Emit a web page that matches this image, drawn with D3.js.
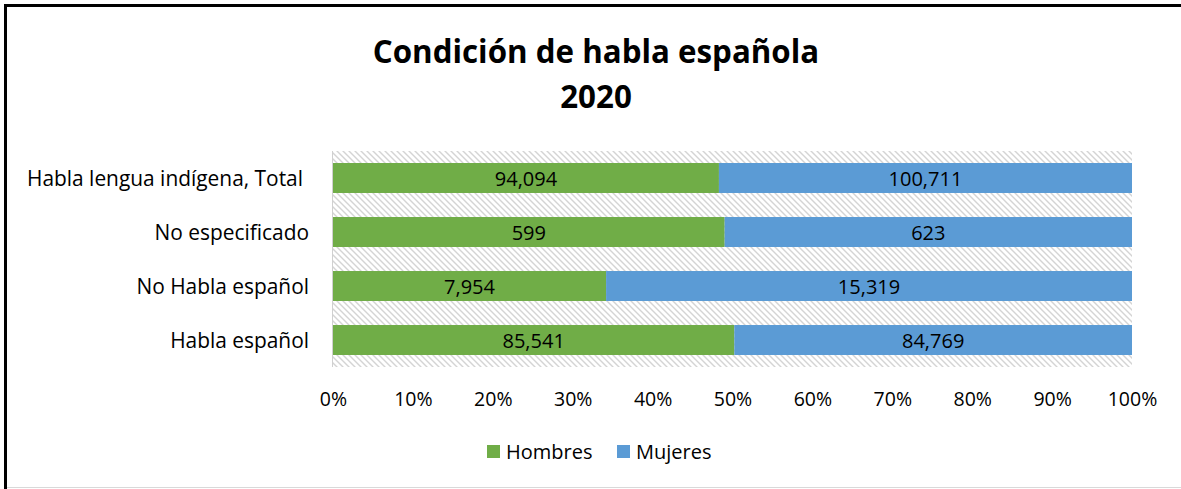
<!DOCTYPE html>
<html><head><meta charset="utf-8">
<script src="https://cdn.jsdelivr.net/npm/d3@7"></script>
<style>body{margin:0;background:#fff;} svg{display:block;font-family:"Open Sans",sans-serif;}</style>
</head><body>
<svg id="c" width="1181" height="489"></svg>
<script>
const categories = ["Habla lengua indígena, Total", "No especificado", "No Habla español", "Habla español"];
const hombres = [94094, 599, 7954, 85541];
const mujeres = [100711, 623, 15319, 84769];
const seriesNames = ["Hombres", "Mujeres"];
const colors = ["#70ad47", "#5b9bd5"];
const ticks = [0,0.1,0.2,0.3,0.4,0.5,0.6,0.7,0.8,0.9,1];

const svg = d3.select("#c");
const defs = svg.append("defs");
const pat = defs.append("pattern").attr("id","hatch").attr("patternUnits","userSpaceOnUse")
  .attr("width",6).attr("height",6);
pat.append("rect").attr("width",6).attr("height",6).attr("fill","#fff");
pat.append("path").attr("d","M0,0 L6,6 M-3,3 L3,9 M3,-3 L9,3").attr("stroke","#d4d4d4").attr("stroke-width",1.4);

// border
svg.append("line").attr("x1",4).attr("x2",1181).attr("y1",5.5).attr("y2",5.5).attr("stroke","#000").attr("stroke-width",3);
svg.append("line").attr("x1",5.5).attr("x2",5.5).attr("y1",4).attr("y2",489).attr("stroke","#000").attr("stroke-width",3);
svg.append("line").attr("x1",7).attr("x2",1181).attr("y1",487.5).attr("y2",487.5).attr("stroke","#d9d9d9").attr("stroke-width",1);

// title
svg.append("text").attr("x",596).attr("y",63).attr("text-anchor","middle").attr("font-weight","bold").attr("font-size",31.3).text("Condición de habla española");
svg.append("text").attr("x",596).attr("y",108).attr("text-anchor","middle").attr("font-weight","bold").attr("font-size",31.3).text("2020");

const x = d3.scaleLinear().domain([0,1]).range([333,1132]);
const y = d3.scaleBand().domain(categories).range([151,367]).paddingInner(0.445).paddingOuter(0.2225);

svg.append("rect").attr("x",x(0)).attr("y",151).attr("width",x(1)-x(0)).attr("height",216).attr("fill","url(#hatch)");

const data = categories.map((c,i)=>({c, vals:[hombres[i], mujeres[i]], total: hombres[i]+mujeres[i]}));
data.forEach(d=>{
  let acc = 0;
  d.vals.forEach((v,j)=>{
    const f0 = acc/d.total, f1 = (acc+v)/d.total;
    acc += v;
    svg.append("rect").attr("x",x(f0)).attr("y",y(d.c)).attr("width",x(f1)-x(f0)).attr("height",y.bandwidth()).attr("fill",colors[j]);
    svg.append("text").attr("x",(x(f0)+x(f1))/2).attr("y",y(d.c)+y.bandwidth()/2+1).attr("dy","0.36em")
      .attr("text-anchor","middle").attr("font-size",20).attr("fill","#000").text(d3.format(",")(v));
  });
});

// y axis
svg.append("line").attr("x1",332.5).attr("x2",332.5).attr("y1",151).attr("y2",367).attr("stroke","#d0d0d0");
categories.forEach(c=>{
  svg.append("text").attr("x",c.startsWith("Habla lengua")?303:309).attr("y",y(c)+y.bandwidth()/2).attr("dy","0.36em")
    .attr("text-anchor","end").attr("font-size",20.9).text(c);
});

// x axis
const xa = svg.append("g").attr("transform","translate(0,399)")
  .call(d3.axisBottom(x).tickValues(ticks).tickFormat(d3.format(".0%")).tickSize(0).tickPadding(0));
xa.select(".domain").remove();
xa.selectAll("text").attr("font-size",19.5).attr("font-family","'Open Sans',sans-serif").attr("fill","#000").attr("dy","0.36em").attr("y",0);

// legend
const lg = [{x:487, tx:506},{x:617, tx:636}];
seriesNames.forEach((n,i)=>{
  svg.append("rect").attr("x",lg[i].x).attr("y",445).attr("width",13).attr("height",13).attr("fill",colors[i]);
  svg.append("text").attr("x",lg[i].tx).attr("y",452).attr("dy","0.36em").attr("font-size",20).text(n);
});
</script>
</body></html>
